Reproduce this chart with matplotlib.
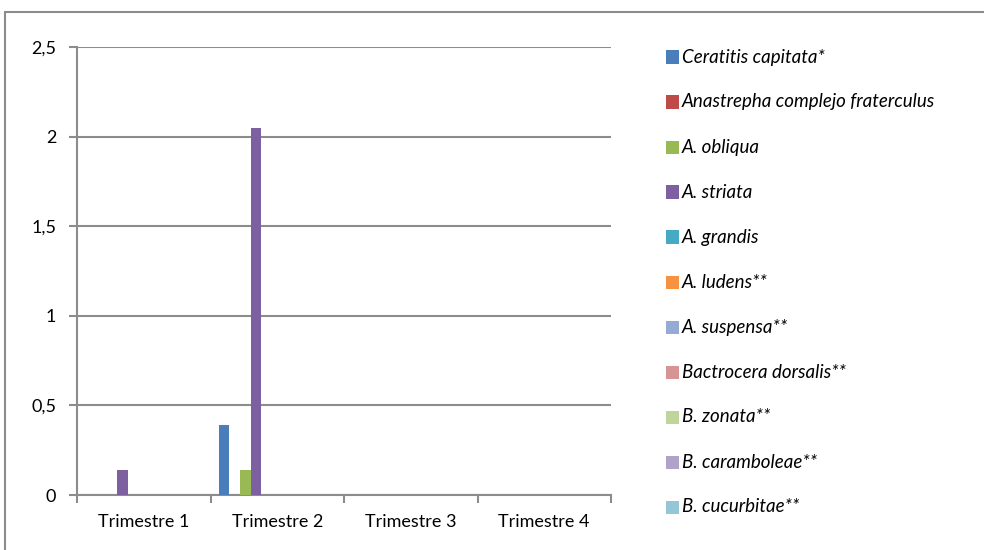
import matplotlib.pyplot as plt
from matplotlib.patches import Rectangle
import numpy as np

plt.rcParams["font.family"] = ["Lato", "DejaVu Sans"]

categories = ["Trimestre 1", "Trimestre 2", "Trimestre 3", "Trimestre 4"]
species = [
    "Ceratitis capitata*",
    "Anastrepha complejo fraterculus",
    "A. obliqua",
    "A. striata",
    "A. grandis",
    "A. ludens**",
    "A. suspensa**",
    "Bactrocera dorsalis**",
    "B. zonata**",
    "B. caramboleae**",
    "B. cucurbitae**",
]
values = [
    [0, 0.39, 0, 0],
    [0, 0, 0, 0],
    [0, 0.14, 0, 0],
    [0.14, 2.05, 0, 0],
    [0, 0, 0, 0],
    [0, 0, 0, 0],
    [0, 0, 0, 0],
    [0, 0, 0, 0],
    [0, 0, 0, 0],
    [0, 0, 0, 0],
    [0, 0, 0, 0],
]
colors = ["#4A7EBB", "#BE4B48", "#98B954", "#7D60A0", "#46AAC5", "#F69240",
          "#95ABD6", "#D69594", "#C0D59C", "#B0A2C8", "#93C6D6"]

W, H = 984, 550
fig = plt.figure(figsize=(W / 100, H / 100), dpi=100)

# outer chart frame
fig.patches.append(Rectangle((5 / W, -0.05), 1.1, 1 - 12 / H + 0.05,
                             transform=fig.transFigure, fill=False,
                             edgecolor="#8c8c8c", linewidth=1.5))

ax = fig.add_axes([77 / W, (H - 495) / H, (611 - 77) / W, (495 - 47) / H])

n = len(species)
bw = 1 / (n + 1.5)
x = np.arange(len(categories))
for j, (name, vals) in enumerate(zip(species, values)):
    ax.bar(x + 0.75 * bw + j * bw, vals, width=bw, align="edge",
           color=colors[j], linewidth=0, label=name, zorder=3)

ax.set_xlim(0, 4)
ax.set_ylim(0, 2.5)
ax.set_yticks([0, 0.5, 1, 1.5, 2, 2.5])
ax.set_yticklabels(["0", "0,5", "1", "1,5", "2", "2,5"], fontsize=13)
ax.set_xticks([0, 1, 2, 3, 4])
ax.set_xticklabels([])
ax.set_xticks(x + 0.5, minor=True)
ax.set_xticklabels(categories, minor=True, fontsize=13)
ax.tick_params(axis="x", which="minor", length=0, pad=14)
ax.tick_params(axis="x", which="major", direction="out", length=6, width=1.5, color="#8c8c8c")
ax.tick_params(axis="y", direction="out", length=6, width=1.5, color="#8c8c8c", pad=9)
ax.yaxis.grid(True, color="#8c8c8c", linewidth=1.5, zorder=0)
for s in ["top", "right"]:
    ax.spines[s].set_visible(False)
for s in ["left", "bottom"]:
    ax.spines[s].set_color("#8c8c8c")
    ax.spines[s].set_linewidth(1.5)

# legend drawn as squares + italic labels, 45 px apart
for k, (name, c) in enumerate(zip(species, colors)):
    yc = 1 - (57 + 45 * k) / H
    fig.patches.append(Rectangle((666 / W, yc - 6.5 / H), 13 / W, 13 / H,
                                 transform=fig.transFigure, facecolor=c,
                                 edgecolor="none"))
    fig.text(682 / W, yc, name, fontsize=13.5, style="italic",
             va="center", ha="left")

fig.savefig("out.png", dpi=100)
